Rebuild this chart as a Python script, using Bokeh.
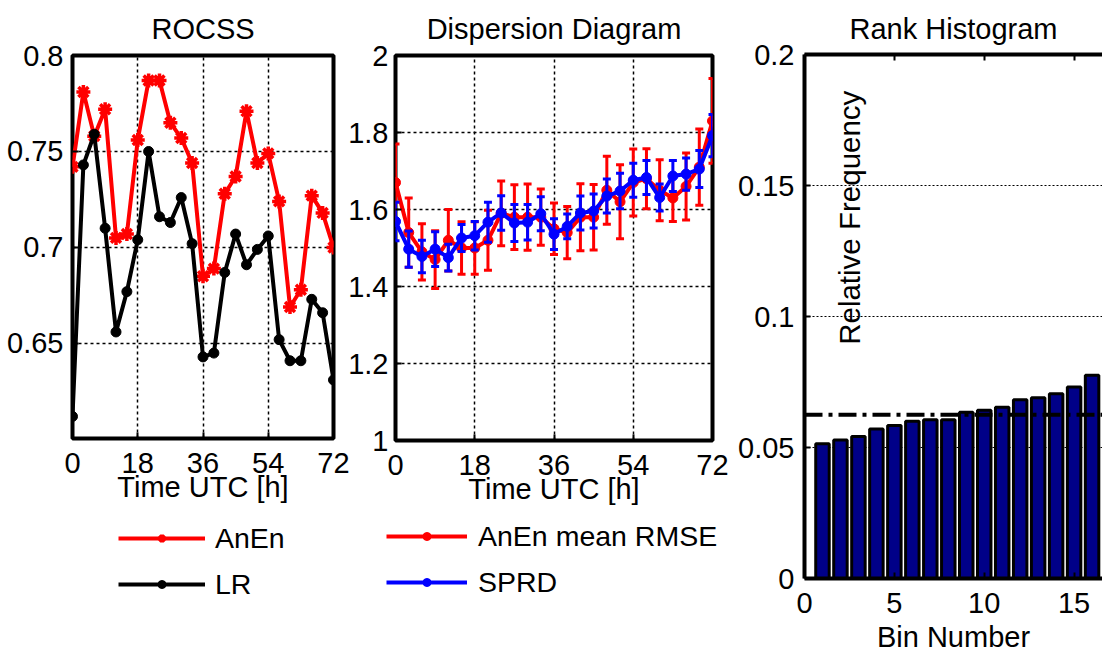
from bokeh.plotting import figure
from bokeh.models import Legend, LegendItem, FixedTicker, Span, Label, LinearAxis, Range1d
from bokeh.embed import file_html
from bokeh.resources import INLINE

# ---------------- data ----------------
hours = list(range(0, 73, 3))
rocss_anen = [0.742, 0.781, 0.758, 0.772, 0.705, 0.707, 0.756, 0.787, 0.787, 0.765, 0.757, 0.744, 0.685,
              0.689, 0.728, 0.737, 0.771, 0.744, 0.749, 0.724, 0.669, 0.678, 0.727, 0.718, 0.700]
rocss_lr = [0.612, 0.743, 0.759, 0.710, 0.656, 0.677, 0.704, 0.750, 0.716, 0.713, 0.726, 0.702, 0.643,
            0.645, 0.687, 0.707, 0.691, 0.699, 0.706, 0.652, 0.641, 0.641, 0.673, 0.666, 0.631]

rmse = [1.67, 1.54, 1.49, 1.47, 1.52, 1.50, 1.50, 1.52, 1.59, 1.58, 1.58, 1.58, 1.55,
        1.54, 1.58, 1.58, 1.65, 1.62, 1.67, 1.68, 1.65, 1.63, 1.66, 1.71, 1.83]
rmse_err = [0.10, 0.09, 0.073, 0.075, 0.08, 0.068, 0.068, 0.078, 0.084, 0.084, 0.086, 0.073, 0.067,
            0.068, 0.087, 0.085, 0.088, 0.096, 0.087, 0.078, 0.079, 0.061, 0.087, 0.099, 0.11]
sprd = [1.569, 1.497, 1.478, 1.497, 1.475, 1.526, 1.532, 1.567, 1.591, 1.565, 1.567, 1.589, 1.536,
        1.556, 1.591, 1.596, 1.635, 1.648, 1.676, 1.683, 1.631, 1.687, 1.692, 1.705, 1.792]
sprd_err = [0.05, 0.047, 0.042, 0.045, 0.035, 0.035, 0.037, 0.052, 0.045, 0.048, 0.046, 0.044, 0.04,
            0.032, 0.044, 0.044, 0.044, 0.046, 0.044, 0.044, 0.035, 0.04, 0.042, 0.048, 0.055]

bins = list(range(1, 17))
rel_freq = [0.0514, 0.0529, 0.0542, 0.0571, 0.0584, 0.0600, 0.0606, 0.0606,
            0.0635, 0.0642, 0.0654, 0.0682, 0.0690, 0.0705, 0.0731, 0.0776]

time_ticks = [0, 18, 36, 54, 72]
rocss_ticks = [0.65, 0.7, 0.75, 0.8]
rocss_tick_labels = ["0.65", "0.7", "0.75", "0.8"]
disp_ticks = [1.0, 1.2, 1.4, 1.6, 1.8, 2.0]
disp_tick_labels = ["1", "1.2", "1.4", "1.6", "1.8", "2"]
rank_xticks = [0, 5, 10, 15]
rank_yticks = [0.0, 0.05, 0.1, 0.15, 0.2]
rank_ytick_labels = ["0", "0.05", "0.1", "0.15", "0.2"]

FONT = "Liberation Sans"
FS = "29px"
LFS = "28.5px"
RED = "#ff0000"
BLUE = "#0000ff"
LW = 4


def pos(left, top=0):
    return {"position": "absolute", "left": f"{left}px", "top": f"{top}px"}


def base_style(p, yticks, ylabels, ystandoff, title_standoff):
    p.title.align = "center"
    p.title.text_font = FONT
    p.title.text_font_size = FS
    p.title.text_font_style = "normal"
    p.title.text_color = "black"
    p.title.standoff = title_standoff
    for ax in list(p.xaxis) + list(p.yaxis):
        ax.axis_line_color = None
        ax.major_tick_in = 6
        ax.major_tick_out = 0
        ax.major_tick_line_color = "black"
        ax.major_tick_line_width = 2
        ax.minor_tick_line_color = None
        ax.major_label_text_font = FONT
        ax.major_label_text_font_size = FS
        ax.major_label_text_color = "black"
        ax.axis_label_text_font = FONT
        ax.axis_label_text_font_size = FS
        ax.axis_label_text_font_style = "normal"
        ax.axis_label_text_color = "black"
    p.xaxis.major_label_standoff = 14
    p.xaxis.axis_label_standoff = -5
    p.yaxis.major_label_standoff = ystandoff
    p.yaxis.ticker = FixedTicker(ticks=yticks)
    p.yaxis.major_label_overrides = {t: s for t, s in zip(yticks, ylabels)}
    p.ygrid.ticker = FixedTicker(ticks=yticks)
    p.background_fill_color = "white"
    p.border_fill_color = None


def grid_style(p, width=1.5):
    p.grid.grid_line_color = "black"
    p.grid.grid_line_dash = "3 3"
    p.grid.grid_line_width = width
    p.grid.grid_line_alpha = 1


def legend_figure(left, top, width):
    # small frame holding only a legend; its ranges keep the helper glyphs out of view
    f = figure(width=width, height=86, output_backend="svg", toolbar_location=None,
               x_range=Range1d(-20, -10), y_range=Range1d(-20, -10),
               x_axis_type=None, y_axis_type=None, min_border=0,
               styles=pos(left, top))
    f.grid.visible = False
    f.outline_line_color = None
    f.background_fill_color = None
    f.border_fill_color = None
    return f


def make_legend(items, glyph_width, standoff):
    return Legend(items=items, location="top_left", orientation="vertical",
                  glyph_width=glyph_width, glyph_height=20, label_height=36, spacing=10,
                  label_standoff=standoff, padding=0, margin=0,
                  border_line_alpha=0, background_fill_alpha=0, label_text_font=FONT,
                  label_text_font_size=LFS, label_text_color="black")


# ---------------- panel 1: ROCSS ----------------
p1 = figure(width=360, height=655, title="ROCSS", output_backend="svg", toolbar_location=None,
            x_range=Range1d(0, 72), y_range=Range1d(0.6005, 0.8),
            min_border_left=72, min_border_right=27, min_border_top=54, min_border_bottom=217,
            styles=pos(0))
base_style(p1, rocss_ticks, rocss_tick_labels, 9, 21)
p1.xaxis.ticker = FixedTicker(ticks=time_ticks)
p1.xgrid.ticker = FixedTicker(ticks=time_ticks)
p1.xaxis.axis_label = "Time UTC [h]"
grid_style(p1)
p1.outline_line_color = "black"
p1.outline_line_width = 4
p1.outline_line_alpha = 1

p1.line(hours, rocss_anen, line_color=RED, line_width=LW)
p1.scatter(hours, rocss_anen, marker="asterisk", size=14, line_color=RED, line_width=3.5)
p1.line(hours, rocss_lr, line_color="black", line_width=LW)
p1.scatter(hours, rocss_lr, marker="circle", size=10, fill_color="black", line_color="black")

# legend for panel 1
lg1 = legend_figure(118, 520, 200)
a1 = lg1.line(hours, rocss_anen, line_color=RED, line_width=LW)
a2 = lg1.scatter(hours, rocss_anen, marker="asterisk", size=10, line_color=RED, line_width=3)
b1 = lg1.line(hours, rocss_lr, line_color="black", line_width=LW)
b2 = lg1.scatter(hours, rocss_lr, marker="circle", size=9, fill_color="black", line_color="black")
lg1.add_layout(make_legend([LegendItem(label="AnEn", renderers=[a1, a2]),
                            LegendItem(label="LR", renderers=[b1, b2])], 87, 10))

# ---------------- panel 2: Dispersion Diagram ----------------
p2 = figure(width=395, height=655, title="Dispersion Diagram", output_backend="svg", toolbar_location=None,
            x_range=Range1d(0, 72), y_range=Range1d(1, 2),
            min_border_left=48, min_border_right=28, min_border_top=55, min_border_bottom=215,
            styles=pos(345))
base_style(p2, disp_ticks, disp_tick_labels, 7, 21)
p2.xaxis.ticker = FixedTicker(ticks=time_ticks)
p2.xgrid.ticker = FixedTicker(ticks=time_ticks)
p2.xaxis.axis_label = "Time UTC [h]"
grid_style(p2)
p2.outline_line_color = "black"
p2.outline_line_width = 4
p2.outline_line_alpha = 1

rmse_lo = [m - e for m, e in zip(rmse, rmse_err)]
rmse_hi = [m + e for m, e in zip(rmse, rmse_err)]
sprd_lo = [m - e for m, e in zip(sprd, sprd_err)]
sprd_hi = [m + e for m, e in zip(sprd, sprd_err)]

p2.segment(hours, rmse_lo, hours, rmse_hi, line_color=RED, line_width=3)
p2.scatter(hours, rmse_lo, marker="dash", size=8, line_color=RED, line_width=3)
p2.scatter(hours, rmse_hi, marker="dash", size=8, line_color=RED, line_width=3)
p2.line(hours, rmse, line_color=RED, line_width=LW)
p2.scatter(hours, rmse, marker="circle", size=10, fill_color=RED, line_color=RED)

p2.segment(hours, sprd_lo, hours, sprd_hi, line_color=BLUE, line_width=3)
p2.scatter(hours, sprd_lo, marker="dash", size=8, line_color=BLUE, line_width=3)
p2.scatter(hours, sprd_hi, marker="dash", size=8, line_color=BLUE, line_width=3)
p2.line(hours, sprd, line_color=BLUE, line_width=LW)
p2.scatter(hours, sprd, marker="circle", size=10, fill_color=BLUE, line_color=BLUE)

# legend for panel 2
lg2 = legend_figure(386, 518, 340)
c1 = lg2.line(hours, rmse, line_color=RED, line_width=LW)
c2 = lg2.scatter(hours, rmse, marker="circle", size=9, fill_color=RED, line_color=RED)
d1 = lg2.line(hours, sprd, line_color=BLUE, line_width=LW)
d2 = lg2.scatter(hours, sprd, marker="circle", size=9, fill_color=BLUE, line_color=BLUE)
lg2.add_layout(make_legend([LegendItem(label="AnEn mean RMSE", renderers=[c1, c2]),
                            LegendItem(label="SPRD", renderers=[d1, d2])], 81, 11))

# ---------------- panel 3: Rank Histogram ----------------
p3 = figure(width=367, height=655, title="Rank Histogram", output_backend="svg", toolbar_location=None,
            x_range=Range1d(0, 16.58), y_range=Range1d(0, 0.2),
            min_border_left=69, min_border_right=0, min_border_top=54, min_border_bottom=77,
            styles=pos(735))
base_style(p3, rank_yticks, rank_ytick_labels, 10, 19)
p3.xaxis.ticker = FixedTicker(ticks=rank_xticks)
p3.xaxis.axis_label = "Bin Number"
p3.xaxis.axis_label_standoff = 5
p3.xgrid.grid_line_color = None
p3.ygrid.grid_line_color = "black"
p3.ygrid.grid_line_dash = "2 2"
p3.ygrid.grid_line_width = 1
p3.outline_line_color = None
for ax in list(p3.xaxis) + list(p3.yaxis):
    ax.axis_line_color = "black"
    ax.axis_line_width = 4

top_axis = LinearAxis(ticker=FixedTicker(ticks=rank_xticks), major_label_text_font_size="1px",
                      major_label_text_color=None, major_label_standoff=0,
                      axis_line_color="black", axis_line_width=4,
                      major_tick_in=6, major_tick_out=0, major_tick_line_width=2,
                      minor_tick_line_color=None)
p3.add_layout(top_axis, "above")

p3.vbar(x=bins, top=rel_freq, width=0.75, fill_color="#000088", line_color="black", line_width=3)
p3.add_layout(Span(location=1 / len(bins), dimension="width", line_color="black",
                   line_width=4, line_dash="18 6 4 6"))
p3.add_layout(Label(x=2.5, y=0.1377, text="Relative Frequency", angle=90, angle_units="deg",
                    text_align="center", text_baseline="middle", text_font=FONT,
                    text_font_size="29.5px", text_color="black"))

open("out.html", "w").write(file_html([p1, p2, p3, lg1, lg2], INLINE))
